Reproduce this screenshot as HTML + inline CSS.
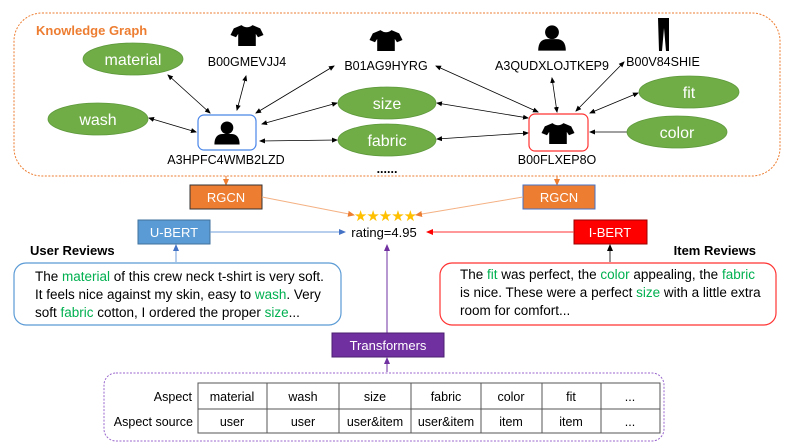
<!DOCTYPE html>
<html><head><meta charset="utf-8"><style>
html,body{margin:0;padding:0;background:#fff}
svg{display:block}
text{font-family:"Liberation Sans",sans-serif}
</style></head><body>
<svg width="789" height="444" viewBox="0 0 789 444" xmlns="http://www.w3.org/2000/svg">
<defs>
<marker id="a" markerWidth="6" markerHeight="6" refX="5" refY="3" orient="auto-start-reverse" markerUnits="userSpaceOnUse"><path d="M0,0.5 L6,3 L0,5.5z" fill="#000"/></marker>
<marker id="ao" markerWidth="7" markerHeight="7" refX="6" refY="3.5" orient="auto" markerUnits="userSpaceOnUse"><path d="M0,0.5 L7,3.5 L0,6.5z" fill="#ed7d31"/></marker>
<marker id="ab" markerWidth="7" markerHeight="7" refX="6" refY="3.5" orient="auto" markerUnits="userSpaceOnUse"><path d="M0,0.5 L7,3.5 L0,6.5z" fill="#4472c4"/></marker>
<marker id="ar" markerWidth="7" markerHeight="7" refX="6" refY="3.5" orient="auto" markerUnits="userSpaceOnUse"><path d="M0,0.5 L7,3.5 L0,6.5z" fill="#f00"/></marker>
<marker id="ap" markerWidth="7" markerHeight="7" refX="6" refY="3.5" orient="auto" markerUnits="userSpaceOnUse"><path d="M0,0.5 L7,3.5 L0,6.5z" fill="#7030a0"/></marker>
<marker id="ak" markerWidth="7" markerHeight="7" refX="6" refY="3.5" orient="auto" markerUnits="userSpaceOnUse"><path d="M0,0.5 L7,3.5 L0,6.5z" fill="#000"/></marker>
<g id="shirt"><path d="M-5,-9 L-12,-6 L-15,0 L-10,2 L-8,-1 L-8,10 L8,10 L8,-1 L10,2 L15,0 L12,-6 L5,-9 Q0,-5 -5,-9z" fill="#000"/></g>
<g id="user"><circle cx="0" cy="-5" r="6" fill="#000"/><path d="M-12,11 Q-12,1 -4,1 L4,1 Q12,1 12,11z" fill="#000"/></g>
</defs>
<rect x="14" y="13" width="766" height="163" rx="28" fill="none" stroke="#ed7d31" stroke-dasharray="2,1.5" stroke-width="1"/>
<text x="36" y="35" font-size="13" font-weight="bold" fill="#ed7d31">Knowledge Graph</text>
<g stroke="#000" stroke-width="0.8" fill="none" marker-start="url(#a)" marker-end="url(#a)">
<line x1="168" y1="75" x2="210" y2="113"/>
<line x1="246" y1="76" x2="237" y2="110"/>
<line x1="334" y1="66" x2="256" y2="113"/>
<line x1="337" y1="103" x2="262" y2="124"/>
<line x1="337" y1="140" x2="260" y2="141"/>
<line x1="149" y1="118" x2="196" y2="132"/>
<line x1="436" y1="66" x2="538" y2="112"/>
<line x1="437" y1="103" x2="528" y2="118"/>
<line x1="437" y1="139" x2="528" y2="133"/>
<line x1="552" y1="78" x2="557" y2="112"/>
<line x1="624" y1="62" x2="576" y2="111"/>
<line x1="638" y1="93" x2="590" y2="113"/>
<line x1="633" y1="132" x2="590" y2="132"/>
</g>
<g fill="#70ad47" stroke="#5f9a3c" stroke-width="0.8">
<ellipse cx="133" cy="59" rx="50" ry="16"/>
<ellipse cx="98" cy="119" rx="50" ry="16"/>
<ellipse cx="387" cy="103" rx="49" ry="16"/>
<ellipse cx="387" cy="140" rx="49" ry="16"/>
<ellipse cx="689" cy="92" rx="50" ry="16"/>
<ellipse cx="677" cy="132" rx="50" ry="16"/>
</g>
<g fill="#fff" font-size="16" text-anchor="middle">
<text x="133" y="65">material</text>
<text x="98" y="125">wash</text>
<text x="387" y="109">size</text>
<text x="387" y="146">fabric</text>
<text x="689" y="98">fit</text>
<text x="677" y="138">color</text>
</g>
<rect x="198" y="115" width="58" height="35" rx="6" fill="#fff" stroke="#4a86e8" stroke-width="1.2"/>
<use href="#user" transform="translate(227,133) scale(1.05)"/>
<rect x="529" y="114" width="59" height="37" rx="6" fill="#fff" stroke="#f33" stroke-width="1.2"/>
<use href="#shirt" transform="translate(558,133) scale(1.1)"/>
<use href="#shirt" transform="translate(247,35) scale(1.1)"/>
<use href="#shirt" transform="translate(386,40) scale(1.1)"/>
<use href="#user" transform="translate(552,38) scale(1.15)"/>
<path d="M658,18 L669,18 L669,51 L666,51 L664,28 L662,51 L659,51z" fill="#000"/>
<g font-size="12.5" text-anchor="middle" fill="#000">
<text x="226" y="164">A3HPFC4WMB2LZD</text>
<text x="557" y="164">B00FLXEP8O</text>
<text x="247" y="66">B00GMEVJJ4</text>
<text x="386" y="70">B01AG9HYRG</text>
<text x="552" y="70">A3QUDXLOJTKEP9</text>
<text x="663" y="66">B00V84SHIE</text>
<text x="387" y="173" font-weight="bold">......</text>
</g>
<line x1="226" y1="176" x2="226" y2="185" stroke="#ed7d31" marker-end="url(#ao)"/>
<line x1="557" y1="176" x2="557" y2="185" stroke="#ed7d31" marker-end="url(#ao)"/>
<rect x="190" y="185" width="72" height="24" fill="#ed7d31" stroke="#333" stroke-width="1"/>
<rect x="523" y="185" width="72" height="24" fill="#ed7d31" stroke="#4472c4" stroke-width="1"/>
<text x="226" y="202" font-size="13" fill="#fff" text-anchor="middle">RGCN</text>
<text x="559" y="202" font-size="13" fill="#fff" text-anchor="middle">RGCN</text>
<line x1="262" y1="197" x2="354" y2="215" stroke="#f4b183" marker-end="url(#ao)"/>
<line x1="523" y1="197" x2="416" y2="215" stroke="#f4b183" marker-end="url(#ao)"/>
<text x="385" y="221" font-size="15" fill="#ffc000" text-anchor="middle" letter-spacing="-1">★★★★★</text>
<rect x="138" y="220" width="72" height="24" fill="#5b9bd5" stroke="#41719c" stroke-width="1"/>
<text x="174" y="237" font-size="13" fill="#fff" text-anchor="middle">U-BERT</text>
<rect x="574" y="220" width="73" height="24" fill="#f00" stroke="#900" stroke-width="1"/>
<text x="610" y="237" font-size="13" fill="#fff" text-anchor="middle">I-BERT</text>
<text x="384" y="237" font-size="13" text-anchor="middle">rating=4.95</text>
<line x1="210" y1="232" x2="345" y2="232" stroke="#6f9fd8" marker-end="url(#ab)"/>
<line x1="574" y1="232" x2="427" y2="232" stroke="#f33" marker-end="url(#ar)"/>
<line x1="387" y1="333" x2="387" y2="245" stroke="#7030a0" marker-end="url(#ap)"/>
<line x1="387" y1="372" x2="387" y2="358" stroke="#7030a0" marker-end="url(#ap)"/>
<line x1="176" y1="262" x2="176" y2="245" stroke="#6f9fd8" marker-end="url(#ab)"/>
<line x1="610" y1="262" x2="610" y2="245" stroke="#000" stroke-width="0.8" marker-end="url(#ak)"/>
<text x="30" y="255" font-size="13" font-weight="bold">User Reviews</text>
<text x="756" y="255" font-size="13" font-weight="bold" text-anchor="end">Item Reviews</text>
<rect x="14" y="263" width="327" height="62" rx="12" fill="#fff" stroke="#5b9bd5" stroke-width="1.2"/>
<g font-size="13.5">
<text x="35" y="281">The <tspan fill="#00b050">material</tspan> of this crew neck t-shirt is very soft.</text>
<text x="35" y="299">It feels nice against my skin, easy to <tspan fill="#00b050">wash</tspan>. Very</text>
<text x="35" y="317">soft <tspan fill="#00b050">fabric</tspan> cotton, I ordered the proper <tspan fill="#00b050">size</tspan>...</text>
</g>
<rect x="440" y="263" width="336" height="62" rx="12" fill="#fff" stroke="#f33" stroke-width="1.2"/>
<g font-size="13.5">
<text x="460" y="279">The <tspan fill="#00b050">fit</tspan> was perfect, the <tspan fill="#00b050">color</tspan> appealing, the <tspan fill="#00b050">fabric</tspan></text>
<text x="460" y="297">is nice. These were a perfect <tspan fill="#00b050">size</tspan> with a little extra</text>
<text x="460" y="315">room for comfort...</text>
</g>
<rect x="332" y="333" width="112" height="24" fill="#7030a0" stroke="#4b2070" stroke-width="1"/>
<text x="388" y="350" font-size="13" fill="#fff" text-anchor="middle">Transformers</text>
<rect x="104" y="373" width="560" height="68" rx="12" fill="none" stroke="#9966cc" stroke-dasharray="2,1.5" stroke-width="1"/>
<g stroke="#555" stroke-width="1" fill="none">
<rect x="198" y="383" width="462" height="50"/>
<line x1="198" y1="409" x2="660" y2="409"/>
<line x1="267" y1="383" x2="267" y2="433"/>
<line x1="339" y1="383" x2="339" y2="433"/>
<line x1="411" y1="383" x2="411" y2="433"/>
<line x1="481" y1="383" x2="481" y2="433"/>
<line x1="542" y1="383" x2="542" y2="433"/>
<line x1="601" y1="383" x2="601" y2="433"/>
</g>
<g font-size="12.5" text-anchor="middle">
<text x="192" y="401" text-anchor="end">Aspect</text>
<text x="193" y="426" text-anchor="end">Aspect source</text>
<text x="232" y="401">material</text><text x="303" y="401">wash</text><text x="375" y="401">size</text><text x="446" y="401">fabric</text><text x="511" y="401">color</text><text x="571" y="401">fit</text><text x="630" y="401">...</text>
<text x="232" y="426">user</text><text x="303" y="426">user</text><text x="375" y="426">user&amp;item</text><text x="446" y="426">user&amp;item</text><text x="511" y="426">item</text><text x="571" y="426">item</text><text x="630" y="426">...</text>
</g>
</svg>
</body></html>
